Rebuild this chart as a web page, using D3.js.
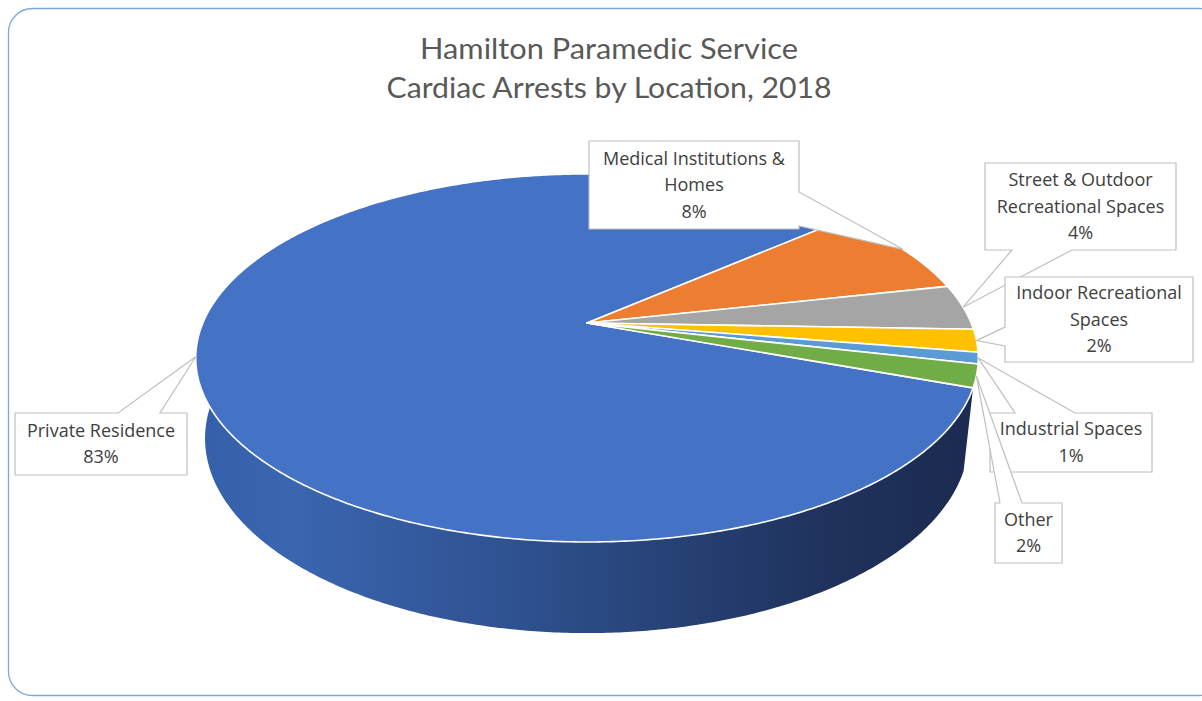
<!DOCTYPE html>
<html>
<head>
<meta charset="utf-8">
<script src="https://cdn.jsdelivr.net/npm/d3@7"></script>
<style>
  body { margin: 0; background: #ffffff; }
  svg { display: block; }
</style>
</head>
<body>
<div id="svgdiv"></div>
<script>
// chart data
var categories = ["Private Residence", "Medical Institutions & Homes", "Street & Outdoor Recreational Spaces",
    "Indoor Recreational Spaces", "Industrial Spaces", "Other"];
var percents = [83, 8, 4, 2, 1, 2];
var labelLines = [
    ["Private Residence"],
    ["Medical Institutions &", "Homes"],
    ["Street & Outdoor", "Recreational Spaces"],
    ["Indoor Recreational", "Spaces"],
    ["Industrial Spaces"],
    ["Other"]
];
var colors = ["#4472c4", "#ed7d31", "#a5a5a5", "#ffc000", "#5b9bd5", "#70ad47"];
var titleLines = ["Hamilton Paramedic Service", "Cardiac Arrests by Location, 2018"];

// Step 1: Set up the svg
var svgWidth = 1202;
var svgHeight = 701;

var svg = d3.select("#svgdiv")
    .append("svg")
    .attr("width", svgWidth)
    .attr("height", svgHeight);

var defs = svg.append("defs");
var grad = defs.append("linearGradient")
    .attr("id", "sideGrad")
    .attr("gradientUnits", "userSpaceOnUse")
    .attr("x1", 196).attr("y1", 0)
    .attr("x2", 978).attr("y2", 0);
[[0, "#3360a8"], [0.12, "#3a66b0"], [0.45, "#2d4e8b"], [0.78, "#20345f"], [1, "#1b2a50"]].forEach(function(s) {
    grad.append("stop").attr("offset", s[0]).attr("stop-color", s[1]);
});

// outer chart border
svg.append("rect")
    .attr("x", 8.5)
    .attr("y", 8.5)
    .attr("width", 1215)
    .attr("height", 687)
    .attr("rx", 24)
    .attr("fill", "#ffffff")
    .attr("stroke", "#7ea8dc")
    .attr("stroke-width", 1.3);

// title
svg.append("g").selectAll("text")
    .data(titleLines)
    .enter()
    .append("text")
        .attr("x", 609)
        .attr("y", (d, i) => 59 + i * 39)
        .attr("text-anchor", "middle")
        .attr("font-family", "Lato, 'Open Sans', sans-serif")
        .attr("font-size", "28px")
        .attr("fill", "#595959")
        .attr("textLength", (d, i) => i === 0 ? 378 : 445)
        .attr("lengthAdjust", "spacingAndGlyphs")
        .text(d => d);

// Step 2: 3D projection of the pie (tilted disc seen in perspective)
var cx = 587, cy = 323;
var tilt = 27.5 * Math.PI / 180;
var camDist = 4.67, focal = 1794, thick = 0.238;
var startDeg = -20;

function proj(theta, yw) {
    var x = Math.cos(theta), zw = Math.sin(theta);
    var Y = yw * Math.cos(tilt) + zw * Math.sin(tilt);
    var Z = camDist + zw * Math.cos(tilt) - yw * Math.sin(tilt);
    return [cx + focal * x / Z, cy - focal * Y / Z, Z];
}

function toPath(pts) {
    return "M" + pts.map(p => p[0].toFixed(2) + "," + p[1].toFixed(2)).join("L") + "Z";
}

// Step 3: slice angles from d3.pie (clockwise from startDeg)
var pie = d3.pie().sort(null).value(d => d);
var arcs = pie(percents).map(function(a, i) {
    var t0 = startDeg * Math.PI / 180 - a.startAngle;
    var t1 = startDeg * Math.PI / 180 - a.endAngle;
    return {i: i, t0: t0, t1: t1, mid: (t0 + t1) / 2, value: a.value};
});

// Step 4: front side walls (only the part facing the viewer)
var visHi = 11.5 * Math.PI / 180;
var visLo = -191.5 * Math.PI / 180;

function sidePath(a) {
    var hi = Math.min(a.t0, visHi);
    var lo = Math.max(a.t1, visLo);
    if (hi <= lo) return null;
    var n = Math.max(2, Math.ceil((hi - lo) / (0.5 * Math.PI / 180)));
    var top = [], bot = [];
    for (var k = 0; k <= n; k++) {
        var t = hi - (hi - lo) * k / n;
        top.push(proj(t, 0));
        bot.push(proj(t, -thick));
    }
    return toPath(top.concat(bot.reverse()));
}

function sideFill(i) {
    return i === 0 ? "url(#sideGrad)" : d3.color(colors[i]).darker(1.4).formatHex();
}

svg.append("g").selectAll("path")
    .data(arcs.filter(a => sidePath(a) !== null))
    .enter()
    .append("path")
        .attr("d", d => sidePath(d))
        .attr("fill", d => sideFill(d.i));

// Step 5: top faces
function topPath(a) {
    var n = Math.max(2, Math.ceil(Math.abs(a.t1 - a.t0) / (0.5 * Math.PI / 180)));
    var pts = [[cx, cy]];
    for (var k = 0; k <= n; k++) {
        pts.push(proj(a.t0 + (a.t1 - a.t0) * k / n, 0));
    }
    return toPath(pts);
}

svg.append("g").selectAll("path")
    .data(arcs)
    .enter()
    .append("path")
        .attr("d", d => topPath(d))
        .attr("fill", d => colors[d.i])
        .attr("stroke", "#ffffff")
        .attr("stroke-width", 1.6)
        .attr("stroke-linejoin", "round");

// Step 6: data callouts (box + wedge pointing at slice middle)
var boxes = [
    {x: 15, y: 413, w: 172, h: 62, side: "top", b0: 118, b1: 160},
    {x: 589, y: 141, w: 210, h: 88, side: "right", b0: 192, b1: 226},
    {x: 985, y: 163, w: 191, h: 87, side: "bottom", b0: 1012, b1: 1072},
    {x: 1005, y: 277, w: 188, h: 85, side: "left", b0: 327, b1: 346},
    {x: 990, y: 413, w: 162, h: 59, side: "top", b0: 1015, b1: 1075},
    {x: 995, y: 503, w: 67, h: 60, side: "top", b0: 1000, b1: 1022}
];

function calloutPath(b, tip) {
    var x0 = b.x, y0 = b.y, x1 = b.x + b.w, y1 = b.y + b.h;
    var t = tip[0].toFixed(1) + "," + tip[1].toFixed(1);
    if (b.side === "top") {
        return `M${x0},${y0}L${b.b0},${y0}L${t}L${b.b1},${y0}L${x1},${y0}L${x1},${y1}L${x0},${y1}Z`;
    } else if (b.side === "right") {
        return `M${x0},${y0}L${x1},${y0}L${x1},${b.b0}L${t}L${x1},${b.b1}L${x1},${y1}L${x0},${y1}Z`;
    } else if (b.side === "bottom") {
        return `M${x0},${y0}L${x1},${y0}L${x1},${y1}L${b.b1},${y1}L${t}L${b.b0},${y1}L${x0},${y1}Z`;
    }
    return `M${x0},${y0}L${x1},${y0}L${x1},${y1}L${x0},${y1}L${x0},${b.b1}L${t}L${x0},${b.b0}Z`;
}

var labelGroup = svg.append("g");
arcs.forEach(function(a) {
    var b = boxes[a.i];
    var tip = proj(a.mid, 0);
    var g = labelGroup.append("g");
    g.append("path")
        .attr("d", calloutPath(b, tip))
        .attr("fill", "#ffffff")
        .attr("stroke", "#bfbfbf")
        .attr("stroke-width", 1.2)
        .attr("stroke-linejoin", "miter");
    var lines = labelLines[a.i].concat([a.value + "%"]);
    var midY = b.y + b.h / 2;
    g.selectAll("text")
        .data(lines)
        .enter()
        .append("text")
            .attr("x", b.x + b.w / 2)
            .attr("y", (d, k) => midY + (k - (lines.length - 1) / 2) * 26.5 + 6)
            .attr("text-anchor", "middle")
            .attr("font-family", "'Open Sans', sans-serif")
            .attr("font-size", "18px")
            .attr("fill", "#404040")
            .text(d => d);
});
</script>
</body>
</html>
